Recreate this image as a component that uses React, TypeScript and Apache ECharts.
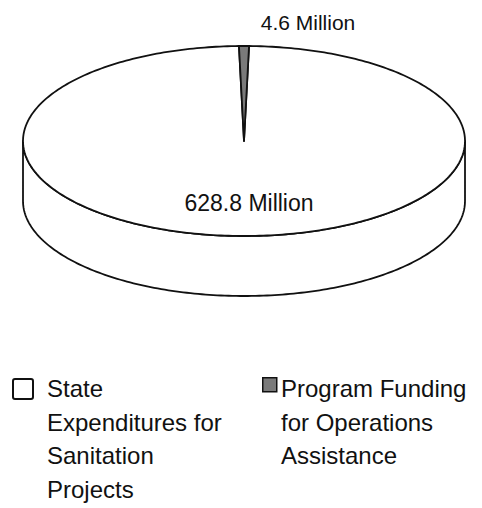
import React, { useEffect, useRef } from "react";
import * as echarts from "echarts";

// ---- data ----
const categories = [
  "State\nExpenditures for\nSanitation\nProjects",
  "Program Funding\nfor Operations\nAssistance",
];
const values = [628.8, 4.6];
const unit = " Million";
const sliceFills = ["#ffffff", "#7a7a7a"];

// ---- layout ----
const CX = 244;
const CY = 141;
const RX = 221;
const RY = 95;
const DEPTH = 60;
const FONT = '"Liberation Sans", Arial, Helvetica, sans-serif';

function pt(a: number, dy = 0): number[] {
  const r = (a * Math.PI) / 180;
  return [CX + RX * Math.cos(r), CY - RY * Math.sin(r) + dy];
}

function arc(a0: number, a1: number, dy = 0): number[][] {
  const pts: number[][] = [];
  const n = Math.max(2, Math.ceil(Math.abs(a1 - a0) / 1));
  for (let k = 0; k <= n; k++) pts.push(pt(a0 + ((a1 - a0) * k) / n, dy));
  return pts;
}

export default function App() {
  const ref = useRef<HTMLDivElement>(null);

  useEffect(() => {
    if (!ref.current) return;
    const chart = echarts.init(ref.current, null, { renderer: "svg" });
    const total = values.reduce((s, v) => s + v, 0);
    const last = values[values.length - 1];
    const start = 90 + ((last / total) * 360) / 2;

    const renderItem = (params: any, api: any) => {
      const i = params.dataIndex;
      let cum = 0;
      for (let k = 0; k < i; k++) cum += values[k];
      const v = api.value(0);
      const a0 = start + (cum / total) * 360;
      const a1 = a0 + (v / total) * 360;
      const children: any[] = [];
      const lineStyle = { stroke: "#111", lineWidth: 1.8, lineJoin: "round" };

      // side wall (front half only)
      for (let s = -1; s <= 1; s++) {
        const f0 = 180 + s * 360;
        const f1 = 360 + s * 360;
        const s0 = Math.max(a0, f0);
        const s1 = Math.min(a1, f1);
        if (s1 > s0) {
          const top = arc(s0, s1, 0);
          const bot = arc(s1, s0, DEPTH);
          children.push({
            type: "polygon",
            shape: { points: top.concat(bot) },
            style: { fill: sliceFills[i], ...lineStyle },
          });
        }
      }
      // top face
      children.push({
        type: "polygon",
        shape: { points: [[CX, CY]].concat(arc(a0, a1, 0)) },
        style: { fill: sliceFills[i], ...lineStyle },
      });
      // label
      const frac = v / total;
      const mid = (a0 + a1) / 2;
      let lx: number, ly: number, size: number;
      if (frac > 0.5) {
        lx = CX + 5;
        ly = CY + 62;
        size = 23;
      } else {
        const p = pt(mid);
        lx = p[0] + 64;
        ly = p[1] - 24;
        size = 21;
      }
      children.push({
        type: "text",
        x: lx,
        y: ly,
        style: {
          text: `${v}${unit}`,
          font: `${size}px ${FONT}`,
          fill: "#111",
          align: "center",
          verticalAlign: "middle",
        },
      });
      return { type: "group", children };
    };

    const legendX = [12, 262];
    const textX = [47, 281];
    const graphics: any[] = [];
    categories.forEach((c, i) => {
      const sz = i === 0 ? 20 : 14;
      graphics.push({
        type: "rect",
        left: legendX[i],
        top: i === 0 ? 378 : 377,
        shape: { width: sz, height: sz, r: i === 0 ? 2 : 0 },
        style: {
          fill: sliceFills[i],
          stroke: "#111",
          lineWidth: i === 0 ? 2 : 1.5,
        },
      });
      graphics.push({
        type: "text",
        left: textX[i],
        top: 372,
        style: {
          text: c,
          font: `24px ${FONT}`,
          lineHeight: 33.5,
          fill: "#111",
        },
      });
    });

    chart.setOption({
      animation: false,
      backgroundColor: "#ffffff",
      series: [
        {
          type: "custom",
          coordinateSystem: "none",
          renderItem,
          data: values.map((v, i) => ({ value: [v, i], name: categories[i] })),
        },
      ],
      graphic: graphics,
    });
    return () => chart.dispose();
  }, []);

  return (
    <div
      ref={ref}
      style={{ position: "fixed", left: 0, top: 0, width: 482, height: 508 }}
    />
  );
}
